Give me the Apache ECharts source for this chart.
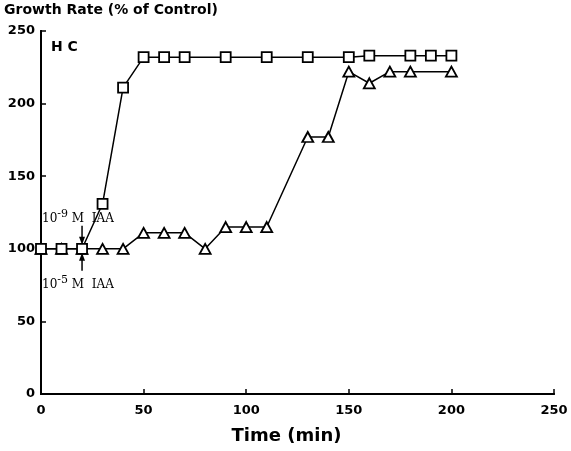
<!DOCTYPE html>
<html>
<head>
<meta charset="utf-8">
<script src="https://cdn.jsdelivr.net/npm/echarts@6/dist/echarts.min.js"></script>
<style>
  html, body { margin: 0; padding: 0; background: #fff; }
  #chart { width: 571px; height: 451px; }
</style>
</head>
<body>
<div id="chart"></div>
<script>
// data
const xTicks = [0, 50, 100, 150, 200, 250];
const yTicks = [0, 50, 100, 150, 200, 250];

const squareTime = [0, 10, 20, 30, 40, 50, 60, 70, 90, 110, 130, 150, 160, 180, 190, 200];
const squareRate = [100, 100, 100, 131, 211, 232, 232, 232, 232, 232, 232, 232, 233, 233, 233, 233];

const triTime = [0, 10, 20, 30, 40, 50, 60, 70, 80, 90, 100, 110, 130, 140, 150, 160, 170, 180, 200];
const triRate = [100, 100, 100, 100, 100, 111, 111, 111, 100, 115, 115, 115, 177, 177, 222, 214, 222, 222, 222];

const chart = echarts.init(document.getElementById('chart'));

const boldFont = '"DejaVu Sans", "Liberation Sans", Arial, sans-serif';

function pairs(xs, ys) {
  return xs.map((x, i) => [x, ys[i]]);
}

const option = {
  animation: false,
  backgroundColor: '#fff',
  grid: { left: 41, right: 17, top: 31, bottom: 57 },
  xAxis: [
    {
      type: 'value', min: 0, max: 250, interval: 50,
      name: 'Time (min)', nameLocation: 'middle', nameGap: 33,
      nameTextStyle: { fontFamily: boldFont, fontWeight: 'bold', fontSize: 18, color: '#000', padding: [0, 22, 0, 0] },
      axisLine: { lineStyle: { color: '#000', width: 2 } },
      axisTick: { inside: true, length: 5, lineStyle: { color: '#000', width: 1.5 } },
      axisLabel: { fontFamily: boldFont, fontWeight: 'bold', fontSize: 13, color: '#000', margin: 10,
        formatter: v => xTicks.includes(v) ? String(v) : '' },
      splitLine: { show: false }
    },
    {
      type: 'value', min: 0, max: 250, position: 'top',
      axisLine: { show: true, lineStyle: { color: '#000', width: 2 } },
      axisTick: { show: false }, axisLabel: { show: false }, splitLine: { show: false }
    }
  ],
  yAxis: [
    {
      type: 'value', min: 0, max: 250, interval: 50,
      axisLine: { show: true, lineStyle: { color: '#000', width: 2 } },
      axisTick: { show: true, inside: true, length: 5, lineStyle: { color: '#000', width: 1.5 } },
      axisLabel: { fontFamily: boldFont, fontWeight: 'bold', fontSize: 13, color: '#000', margin: 6,
        formatter: v => yTicks.includes(v) ? String(v) : '' },
      splitLine: { show: false }
    },
    {
      type: 'value', min: 0, max: 250, position: 'right',
      axisLine: { show: true, lineStyle: { color: '#000', width: 2 } },
      axisTick: { show: false }, axisLabel: { show: false }, splitLine: { show: false }
    }
  ],
  series: [
    {
      name: 'IAA 1e-9 M',
      type: 'line',
      data: pairs(squareTime, squareRate),
      symbol: 'rect', symbolSize: 10,
      lineStyle: { color: '#000', width: 1.5 },
      itemStyle: { color: '#fff', borderColor: '#000', borderWidth: 1.8 },
      z: 3
    },
    {
      name: 'IAA 1e-5 M',
      type: 'line',
      data: pairs(triTime, triRate),
      symbol: 'triangle', symbolSize: [11, 10],
      lineStyle: { color: '#000', width: 1.5 },
      itemStyle: { color: '#fff', borderColor: '#000', borderWidth: 1.8 },
      z: 2
    }
  ]
};

chart.setOption(option);

// IAA annotations anchored at the treatment point (t = 20 min, 100 %)
const p = chart.convertToPixel({ xAxisIndex: 0, yAxisIndex: 0 }, [20, 100]);
const serif = '"DejaVu Serif", "Liberation Serif", serif';
const rich = {
  b: { font: '12px ' + serif, fill: '#000' },
  s: { font: '11px ' + serif, fill: '#000', padding: [0, 0, 9, 0] }
};
chart.setOption({
  graphic: [
    {
      type: 'text', left: 4, top: 3,
      style: { text: 'Growth Rate (% of Control)', font: 'bold 14px ' + boldFont, fill: '#000' }
    },
    {
      type: 'text', left: 51, top: 40,
      style: { text: 'H C', font: 'bold 14px ' + boldFont, fill: '#000' }
    },
    {
      type: 'text', x: p[0] - 40, y: p[1] - 40,
      style: { text: '{b|10}{s|-9}{b| M  IAA}', rich: rich }
    },
    { type: 'line', shape: { x1: p[0], y1: p[1] - 23, x2: p[0], y2: p[1] - 8 }, style: { stroke: '#000', lineWidth: 1.5 } },
    { type: 'polygon', shape: { points: [[p[0] - 3, p[1] - 12], [p[0] + 3, p[1] - 12], [p[0], p[1] - 4]] }, style: { fill: '#000' } },
    { type: 'line', shape: { x1: p[0], y1: p[1] + 22, x2: p[0], y2: p[1] + 8 }, style: { stroke: '#000', lineWidth: 1.5 } },
    { type: 'polygon', shape: { points: [[p[0] - 3, p[1] + 12], [p[0] + 3, p[1] + 12], [p[0], p[1] + 4]] }, style: { fill: '#000' } },
    {
      type: 'text', x: p[0] - 40, y: p[1] + 26,
      style: { text: '{b|10}{s|-5}{b| M  IAA}', rich: rich }
    }
  ]
});
</script>
</body>
</html>
